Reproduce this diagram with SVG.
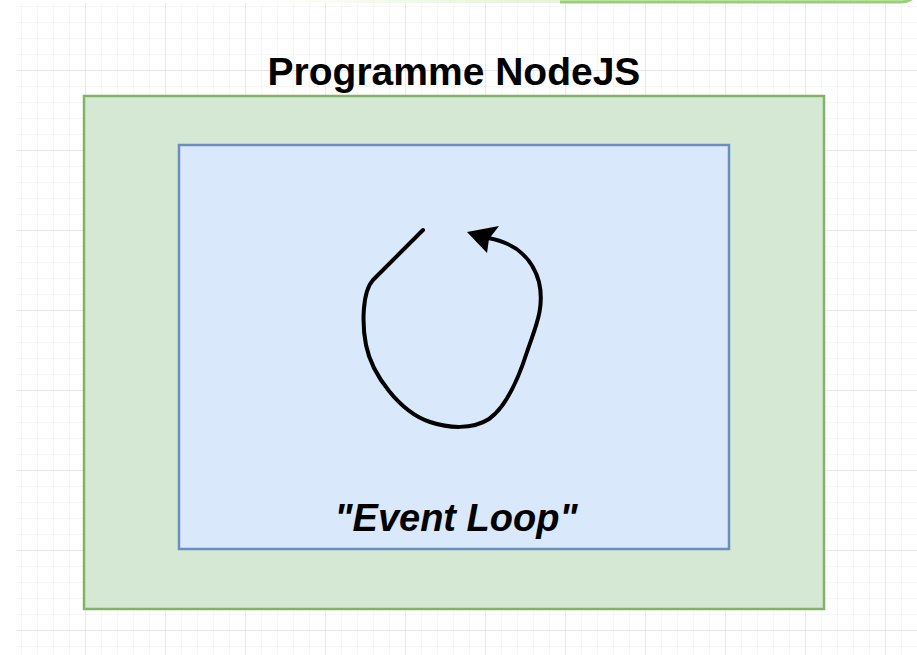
<svg xmlns="http://www.w3.org/2000/svg" width="917" height="655" viewBox="0 0 917 655">
  <defs>
    <pattern id="minor" x="5" y="6" width="16" height="16" patternUnits="userSpaceOnUse">
      <path d="M0 0 V16 M0 0 H16" fill="none" stroke="#efefef" stroke-width="1"/>
    </pattern>
    <pattern id="major" x="5" y="-10" width="80" height="80" patternUnits="userSpaceOnUse">
      <path d="M0 0 V80 M0 0 H80" fill="none" stroke="#e0e0e0" stroke-width="1.3"/>
    </pattern>
    <linearGradient id="topfill" x1="0" y1="0" x2="1" y2="0">
      <stop offset="0" stop-color="#ffffff"/>
      <stop offset="0.4" stop-color="#e8f4d8"/>
      <stop offset="1" stop-color="#d9efc4"/>
    </linearGradient>
    <style>
      .title{font-family:"Liberation Sans",Arial,sans-serif;font-weight:bold;fill:#000}
      .outer{fill:#d5e8d4;stroke:#82b366;stroke-width:2.5}
      .inner{fill:#dae8fc;stroke:#6c8ebf;stroke-width:2.5}
      .loop{fill:none;stroke:#000;stroke-width:4;stroke-linecap:round;stroke-linejoin:round}
    </style>
  </defs>
  <rect width="917" height="655" fill="#ffffff"/>
  <rect x="16" y="3" width="901" height="652" fill="url(#minor)"/>
  <rect x="16" y="3" width="901" height="652" fill="url(#major)"/>

  <g id="top-shape">
    <path d="M255 0 H912 Q908 3 900 3 H262 Q256 2 255 0 Z" fill="url(#topfill)"/>
    <path d="M560 2 H900 Q908 2 913 -2" fill="none" stroke="#97d077" stroke-width="3"/>
  </g>

  <g id="programme-nodejs">
    <rect class="outer" x="84" y="96" width="740" height="513"/>
    <text class="title" x="454" y="85" font-size="39" text-anchor="middle">Programme NodeJS</text>
  </g>

  <g id="event-loop">
    <rect class="inner" x="179" y="145" width="550" height="404"/>
    <text class="title" x="456" y="531" font-size="38" font-style="italic" text-anchor="middle">"Event Loop"</text>
  </g>

  <g id="connectors">
    <path class="loop" d="M423 230 L373 280 C362 292 362 325 366 345 C372 375 400 412 430 422 C448 428 472 430 489 419 C506 407 518 380 527 352 C535 328 545 308 539 282 C533 260 517 243 488 238"/>
    <polygon points="467,232 499,226 489,239 487,253" fill="#000"/>
  </g>
</svg>
